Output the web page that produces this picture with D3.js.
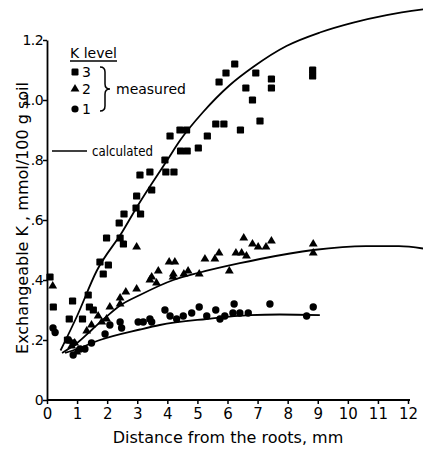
<!DOCTYPE html>
<html>
<head>
<meta charset="utf-8">
<script src="https://cdn.jsdelivr.net/npm/d3@7"></script>
<style>
  html, body { margin: 0; padding: 0; background: #fff; }
  svg { display: block; }
  text { font-family: "DejaVu Sans", sans-serif; fill: #000; }
</style>
</head>
<body>
<svg id="chart" width="423" height="449"></svg>
<script>
// Measured exchangeable K (mmol/100 g soil) by distance from the roots (mm)
const level3X = [0.10,0.21,0.74,0.85,1.18,1.37,1.41,1.54,0.68,1.76,1.87,1.98,2.04,2.40,2.43,2.54,2.56,2.96,2.98,3.11,3.09,3.42,3.48,3.92,3.95,4.22,4.09,4.42,4.64,4.44,4.66,5.03,5.33,5.61,5.88,5.72,5.95,6.24,6.43,6.61,6.83,6.94,7.08,7.46,7.46,8.83,8.83];
const level3Y = [0.41,0.31,0.27,0.33,0.27,0.35,0.31,0.30,0.20,0.46,0.42,0.54,0.45,0.59,0.54,0.52,0.62,0.64,0.68,0.62,0.75,0.76,0.70,0.80,0.76,0.76,0.88,0.90,0.90,0.83,0.83,0.84,0.88,0.92,0.92,1.06,1.09,1.12,0.90,1.04,1.00,1.09,0.93,1.07,1.04,1.10,1.08];

const level2X = [0.19,0.82,0.92,0.99,1.32,1.48,1.70,1.82,1.98,2.09,2.43,2.43,2.62,2.98,2.98,3.42,3.48,3.64,3.70,4.06,4.25,4.19,4.20,4.55,4.69,5.06,5.25,5.58,5.72,6.06,6.28,6.47,6.63,6.54,6.83,7.02,7.28,7.46,8.85,8.85];
const level2Y = [0.38,0.18,0.19,0.16,0.23,0.25,0.28,0.26,0.27,0.31,0.32,0.34,0.36,0.37,0.51,0.40,0.41,0.39,0.43,0.46,0.46,0.41,0.42,0.42,0.43,0.42,0.47,0.47,0.49,0.43,0.49,0.49,0.48,0.54,0.52,0.51,0.51,0.53,0.52,0.49];

const level1X = [0.20,0.27,0.71,0.87,0.87,1.10,1.26,1.48,1.93,2.09,2.43,2.48,3.03,3.20,3.48,3.42,3.92,4.09,4.31,4.53,4.81,5.06,5.31,5.61,5.75,5.91,6.18,6.22,6.41,6.69,7.41,8.63,8.85];
const level1Y = [0.24,0.225,0.20,0.19,0.15,0.17,0.17,0.19,0.22,0.25,0.26,0.24,0.26,0.26,0.26,0.27,0.30,0.28,0.27,0.28,0.29,0.31,0.28,0.30,0.27,0.28,0.29,0.32,0.29,0.29,0.32,0.28,0.31];

// Calculated curves
const calc3X = [0.45,1.0,1.65,2.5,3.0,4.0,4.42,5.19,6.08,6.85,7.96,9.07,10.18,11.29,12.5];
const calc3Y = [0.165,0.28,0.43,0.56,0.645,0.80,0.865,0.96,1.05,1.11,1.18,1.225,1.258,1.283,1.302];
const calc2X = [0.5,1.0,1.5,2.0,2.43,3.09,4.2,5.08,6.41,7.08,8.85,10.6,11.7,12.5];
const calc2Y = [0.157,0.19,0.235,0.28,0.315,0.35,0.40,0.425,0.456,0.47,0.50,0.513,0.513,0.505];
const calc1X = [0.6,1.0,1.76,3.09,3.75,5.3,6.74,7.74,9.07];
const calc1Y = [0.157,0.17,0.20,0.235,0.25,0.27,0.283,0.285,0.283];

// Axis ticks
const xTicks = [0,1,2,3,4,5,6,7,8,9,10,11,12];
const yTicks = [0,0.2,0.4,0.6,0.8,1.0,1.2];
const yTickLabels = ["0",".2",".4",".6",".8","1.0","1.2"];

const svg = d3.select("#chart");
const x = d3.scaleLinear().domain([0, 12]).range([47, 408]);
const y = d3.scaleLinear().domain([0, 1.2]).range([400, 40]);

// Axes
const xAxis = d3.axisBottom(x).tickValues(xTicks).tickSize(4).tickSizeOuter(0).tickPadding(4)
  .tickFormat(d3.format("d"));
const yAxis = d3.axisLeft(y).tickValues(yTicks).tickSize(4).tickSizeOuter(0).tickPadding(0)
  .tickFormat((d, i) => yTickLabels[i]);

const gx = svg.append("g").attr("transform", "translate(0,400)").call(xAxis);
const gy = svg.append("g").attr("transform", "translate(47,0)").call(yAxis);
[gx, gy].forEach(g => {
  g.select(".domain").attr("stroke", "#000").attr("stroke-width", 1.8);
  g.selectAll(".tick line").attr("stroke", "#000").attr("stroke-width", 1.5);
  g.selectAll(".tick text").style("font-family", "DejaVu Sans, sans-serif")
    .style("font-size", "15px").attr("fill", "#000");
});
gy.selectAll(".tick text").style("font-size", "14px").style("letter-spacing", "-0.6px");
gx.select(".domain").attr("d", "M" + x(0) + ",0H" + (x(12) + 2));

// Axis titles
svg.append("text").attr("x", 228).attr("y", 443).attr("text-anchor", "middle")
  .style("font-size", "16px").text("Distance from the roots, mm");
svg.append("text").attr("transform", "translate(27.5,218) rotate(-90)").attr("text-anchor", "middle")
  .style("font-size", "16px").text("Exchangeable K , mmol/100 g soil");

// Calculated curves
const line = d3.line().x(d => x(d[0])).y(d => y(d[1])).curve(d3.curveMonotoneX);
const plot = svg.append("g");
[[calc3X, calc3Y], [calc2X, calc2Y], [calc1X, calc1Y]].forEach(([xs, ys]) => {
  plot.append("path").datum(xs.map((v, i) => [v, ys[i]]))
    .attr("d", line).attr("fill", "none").attr("stroke", "#000").attr("stroke-width", 1.8);
});

// Measured points
const pts = (xs, ys) => xs.map((v, i) => [v, ys[i]]);
plot.selectAll("rect.l3").data(pts(level3X, level3Y)).join("rect").attr("class", "l3")
  .attr("x", d => x(d[0]) - 3.6).attr("y", d => y(d[1]) - 3.6)
  .attr("width", 7.2).attr("height", 7.2).attr("rx", 1.2).attr("fill", "#000");
const tri = d3.symbol().type(d3.symbolTriangle).size(34);
plot.selectAll("path.l2").data(pts(level2X, level2Y)).join("path").attr("class", "l2")
  .attr("transform", d => `translate(${x(d[0])},${y(d[1])})`).attr("d", tri).attr("fill", "#000");
plot.selectAll("circle.l1").data(pts(level1X, level1Y)).join("circle").attr("class", "l1")
  .attr("cx", d => x(d[0])).attr("cy", d => y(d[1])).attr("r", 3.7).attr("fill", "#000");

// Legend
const lg = svg.append("g");
lg.append("text").attr("x", 70).attr("y", 58).style("font-size", "14px").text("K level");
lg.append("line").attr("x1", 70).attr("x2", 117).attr("y1", 61).attr("y2", 61)
  .attr("stroke", "#000").attr("stroke-width", 1.3);
lg.append("rect").attr("x", 71.5).attr("y", 68.5).attr("width", 7).attr("height", 7).attr("rx", 1.2).attr("fill", "#000");
lg.append("path").attr("transform", "translate(75,89)").attr("d", tri).attr("fill", "#000");
lg.append("circle").attr("cx", 75).attr("cy", 109).attr("r", 3.6).attr("fill", "#000");
[["3", 77], ["2", 94], ["1", 114]].forEach(([t, yy]) => {
  lg.append("text").attr("x", 82).attr("y", yy).style("font-size", "14px").text(t);
});
// Brace grouping the measured levels
lg.append("path")
  .attr("d", "M100,67 Q105,67 105,72 L105,84 Q105,89 110,89 Q105,89 105,94 L105,106 Q105,111 100,111")
  .attr("fill", "none").attr("stroke", "#000").attr("stroke-width", 1.5);
lg.append("text").attr("x", 116).attr("y", 94).style("font-size", "14px").text("measured");
lg.append("line").attr("x1", 52).attr("x2", 87).attr("y1", 151).attr("y2", 151)
  .attr("stroke", "#000").attr("stroke-width", 1.5);
lg.append("text").attr("x", 92).attr("y", 156).style("font-size", "14px")
  .attr("textLength", 61).attr("lengthAdjust", "spacingAndGlyphs").text("calculated");
</script>
</body>
</html>
